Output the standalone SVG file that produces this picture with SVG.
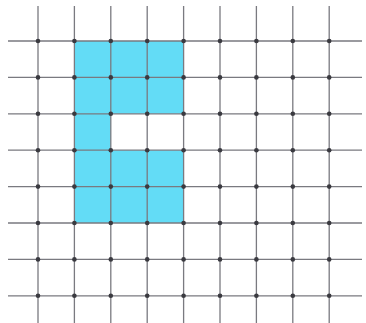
<svg xmlns="http://www.w3.org/2000/svg" width="366" height="323" viewBox="0 0 366 323">
<style>
.g{stroke:#7a7a80;stroke-width:1.3;fill:none}
.d{fill:#3a3a40}
.f{fill:#63dcf6;stroke:none}
</style>
<rect width="366" height="323" fill="#ffffff"/>
<g id="shape">
<path class="f" d="M74.4,41 H183.6 V113.8 H110.8 V150.2 H183.6 V223 H74.4 Z"/>
</g>
<g id="grid">
<g class="g">
<path d="M38,6 V323 M74.4,6 V323 M110.8,6 V323 M147.2,6 V323 M183.6,6 V323 M220,6 V323 M256.4,6 V323 M292.8,6 V323 M329.2,6 V323"/>
<path d="M8,41 H362 M8,77.4 H362 M8,113.8 H362 M8,150.2 H362 M8,186.6 H362 M8,223 H362 M8,259.4 H362 M8,295.8 H362"/>
</g>
<g class="d">
<circle cx="38" cy="41" r="2.3"/><circle cx="74.4" cy="41" r="2.3"/><circle cx="110.8" cy="41" r="2.3"/><circle cx="147.2" cy="41" r="2.3"/><circle cx="183.6" cy="41" r="2.3"/><circle cx="220" cy="41" r="2.3"/><circle cx="256.4" cy="41" r="2.3"/><circle cx="292.8" cy="41" r="2.3"/><circle cx="329.2" cy="41" r="2.3"/>
<circle cx="38" cy="77.4" r="2.3"/><circle cx="74.4" cy="77.4" r="2.3"/><circle cx="110.8" cy="77.4" r="2.3"/><circle cx="147.2" cy="77.4" r="2.3"/><circle cx="183.6" cy="77.4" r="2.3"/><circle cx="220" cy="77.4" r="2.3"/><circle cx="256.4" cy="77.4" r="2.3"/><circle cx="292.8" cy="77.4" r="2.3"/><circle cx="329.2" cy="77.4" r="2.3"/>
<circle cx="38" cy="113.8" r="2.3"/><circle cx="74.4" cy="113.8" r="2.3"/><circle cx="110.8" cy="113.8" r="2.3"/><circle cx="147.2" cy="113.8" r="2.3"/><circle cx="183.6" cy="113.8" r="2.3"/><circle cx="220" cy="113.8" r="2.3"/><circle cx="256.4" cy="113.8" r="2.3"/><circle cx="292.8" cy="113.8" r="2.3"/><circle cx="329.2" cy="113.8" r="2.3"/>
<circle cx="38" cy="150.2" r="2.3"/><circle cx="74.4" cy="150.2" r="2.3"/><circle cx="110.8" cy="150.2" r="2.3"/><circle cx="147.2" cy="150.2" r="2.3"/><circle cx="183.6" cy="150.2" r="2.3"/><circle cx="220" cy="150.2" r="2.3"/><circle cx="256.4" cy="150.2" r="2.3"/><circle cx="292.8" cy="150.2" r="2.3"/><circle cx="329.2" cy="150.2" r="2.3"/>
<circle cx="38" cy="186.6" r="2.3"/><circle cx="74.4" cy="186.6" r="2.3"/><circle cx="110.8" cy="186.6" r="2.3"/><circle cx="147.2" cy="186.6" r="2.3"/><circle cx="183.6" cy="186.6" r="2.3"/><circle cx="220" cy="186.6" r="2.3"/><circle cx="256.4" cy="186.6" r="2.3"/><circle cx="292.8" cy="186.6" r="2.3"/><circle cx="329.2" cy="186.6" r="2.3"/>
<circle cx="38" cy="223" r="2.3"/><circle cx="74.4" cy="223" r="2.3"/><circle cx="110.8" cy="223" r="2.3"/><circle cx="147.2" cy="223" r="2.3"/><circle cx="183.6" cy="223" r="2.3"/><circle cx="220" cy="223" r="2.3"/><circle cx="256.4" cy="223" r="2.3"/><circle cx="292.8" cy="223" r="2.3"/><circle cx="329.2" cy="223" r="2.3"/>
<circle cx="38" cy="259.4" r="2.3"/><circle cx="74.4" cy="259.4" r="2.3"/><circle cx="110.8" cy="259.4" r="2.3"/><circle cx="147.2" cy="259.4" r="2.3"/><circle cx="183.6" cy="259.4" r="2.3"/><circle cx="220" cy="259.4" r="2.3"/><circle cx="256.4" cy="259.4" r="2.3"/><circle cx="292.8" cy="259.4" r="2.3"/><circle cx="329.2" cy="259.4" r="2.3"/>
<circle cx="38" cy="295.8" r="2.3"/><circle cx="74.4" cy="295.8" r="2.3"/><circle cx="110.8" cy="295.8" r="2.3"/><circle cx="147.2" cy="295.8" r="2.3"/><circle cx="183.6" cy="295.8" r="2.3"/><circle cx="220" cy="295.8" r="2.3"/><circle cx="256.4" cy="295.8" r="2.3"/><circle cx="292.8" cy="295.8" r="2.3"/><circle cx="329.2" cy="295.8" r="2.3"/>
</g>
</g>
</svg>
